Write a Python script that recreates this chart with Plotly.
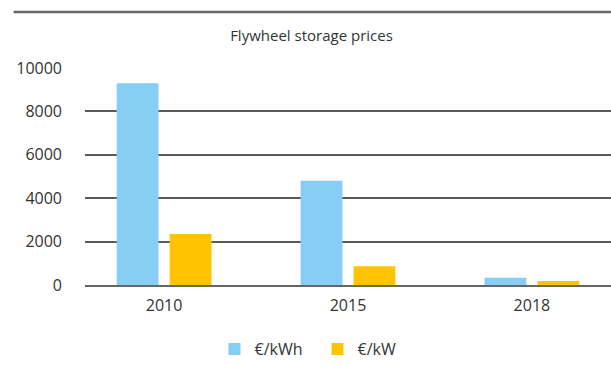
import plotly.graph_objects as go

# Flywheel storage price data
years = ["2010", "2015", "2018"]
price_per_kwh = [9300, 4800, 330]
price_per_kw = [2350, 860, 180]
series_names = ["€/kWh", "€/kW"]
y_ticks = [0, 2000, 4000, 6000, 8000, 10000]
y_tick_labels = ["0", "2000", "4000", "6000", "8000", "10000"]

FONT = "Open Sans"
TEXT = "#333333"
GRID = "#5a5a5a"

fig = go.Figure()
fig.add_trace(go.Bar(x=years, y=price_per_kwh, name=series_names[0],
                     marker=dict(color="#86CEF3", line=dict(width=0))))
fig.add_trace(go.Bar(x=years, y=price_per_kw, name=series_names[1],
                     marker=dict(color="#FFC400", line=dict(width=0))))

fig.update_layout(
    width=611, height=367,
    margin=dict(l=85, r=0, t=68, b=82),
    paper_bgcolor="white", plot_bgcolor="white",
    barmode="group", bargap=0.424, bargroupgap=0.21,
    font=dict(family=FONT, color=TEXT, size=16),
    title=dict(text="Flywheel storage prices", x=0.5098, xref="container",
               xanchor="center", y=0.9027, yref="container", yanchor="middle",
               font=dict(family=FONT, size=15, color=TEXT)),
    showlegend=True,
    legend=dict(orientation="h", x=0.442, xanchor="center", y=-0.295,
                yanchor="middle", font=dict(size=16, color=TEXT),
                entrywidth=58, entrywidthmode="pixels", itemwidth=30),
    xaxis=dict(range=[-0.43, 2.43], showgrid=False, showline=True,
               linecolor="#666666", linewidth=2, ticks="",
               tickfont=dict(size=16, color=TEXT), ticklabelstandoff=5),
    yaxis=dict(range=[0, 10000], tickvals=y_ticks, ticktext=y_tick_labels,
               showgrid=True, gridcolor=GRID, gridwidth=1.5, zeroline=False,
               ticks="", tickfont=dict(size=16, color=TEXT),
               ticklabelstandoff=22, fixedrange=True),
    shapes=[dict(type="line", xref="paper", yref="paper",
                 x0=-0.1356, x1=1, y0=1.258, y1=1.258,
                 line=dict(color="#666666", width=2.5))],
)

fig.write_html("out.html")
